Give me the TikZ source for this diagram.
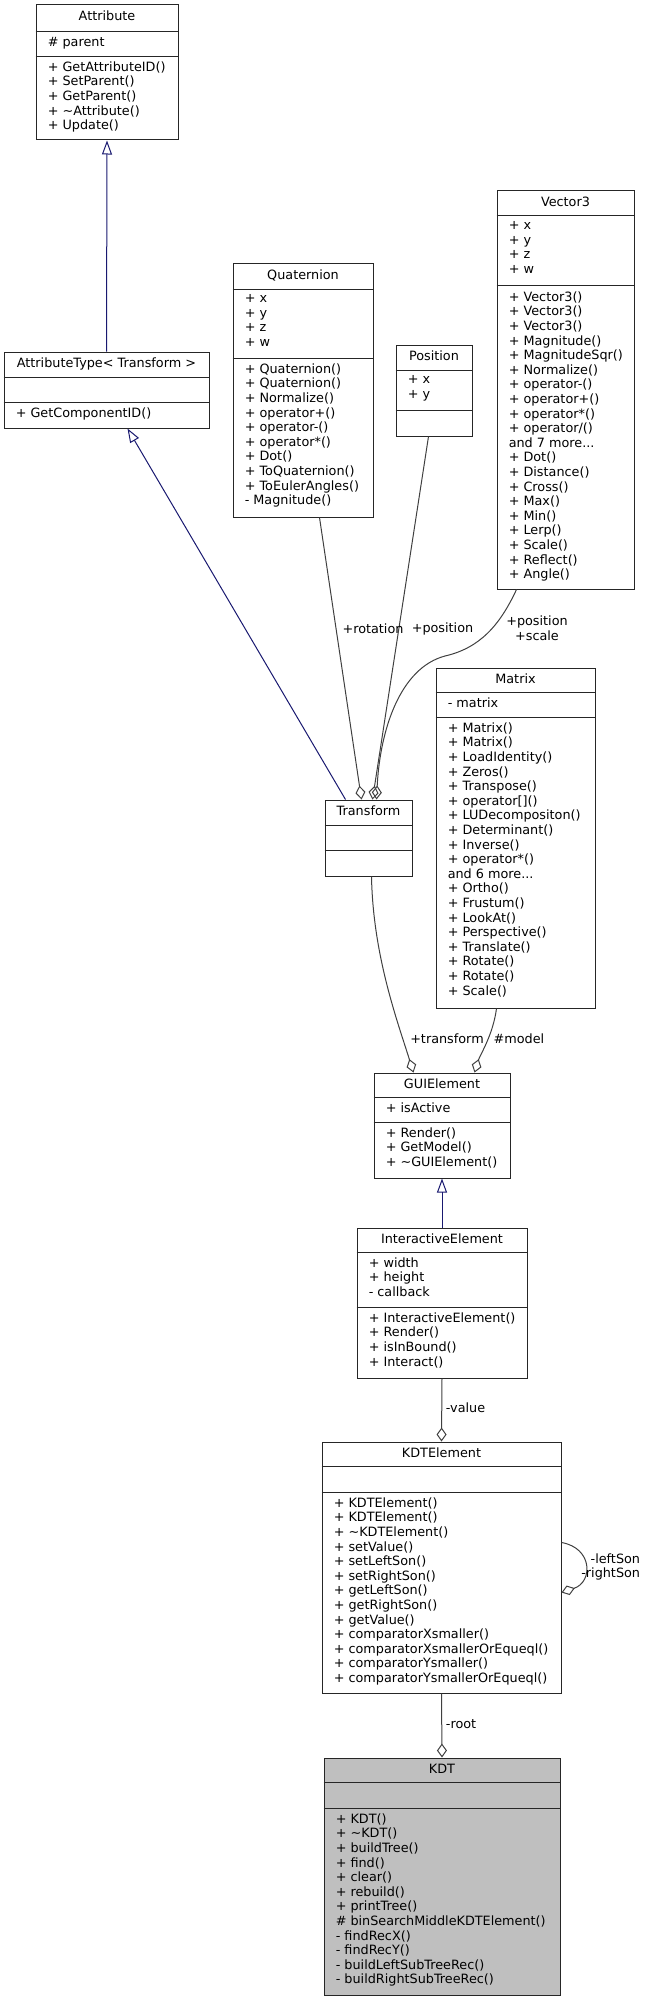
\documentclass[tikz,border=0pt]{standalone}
\usepackage{fontspec}
\setmainfont{DejaVu Sans}
\usetikzlibrary{arrows.meta,calc,fit}
\newcommand{\memfont}{\fontsize{9.6pt}{10.95pt}\selectfont}
\definecolor{edgegray}{HTML}{404040}
\definecolor{genblue}{HTML}{191970}
\definecolor{kdtgray}{HTML}{BFBFBF}

\begin{document}
\begin{tikzpicture}[
  x=0.75pt, y=-0.75pt,
  font=\memfont,
  cls/.style={draw=black!85,line width=0.75pt,fill=white,inner sep=0pt},
  sepline/.style={draw=black!85,line width=0.75pt},
  title/.style={anchor=base,inner sep=0pt},
  members/.style={anchor=north west,align=left,inner sep=0pt,execute at begin node=\strut},
  lbl/.style={inner sep=0.5pt,align=center},
  gen/.style={draw=genblue,line width=0.75pt,-{Triangle[open,length=10.5pt,width=7.5pt]}},
  assoc/.style={draw=edgegray,line width=0.75pt,-{Diamond[open,length=10.5pt,width=7.5pt]}},
]
\useasboundingbox (0,0) rectangle (651,2001);

% ---- class boxes ----
\node[cls,fit={(36,5) (178,140)}] (attr) {};
\node[cls,fit={(4,352) (209,428)}] (attrtype) {};
\node[cls,fit={(233,264) (373,517)}] (quat) {};
\node[cls,fit={(396,345) (472,436)}] (position) {};
\node[cls,fit={(497,191) (634,589)}] (vec3) {};
\node[cls,fit={(436,668) (595,1008)}] (matrix) {};
\node[cls,fit={(325,800) (412,876)}] (transform) {};
\node[cls,fit={(374,1073) (510,1178)}] (guie) {};
\node[cls,fit={(357,1228) (527,1378)}] (inter) {};
\node[cls,fit={(322,1442) (561,1693)}] (kdte) {};
\node[cls,fill=kdtgray,fit={(324,1758) (560,1995)}] (kdt) {};

% ---- compartments ----
\foreach \n/\sa/\sb in {attr/27/52,attrtype/26/51,quat/26/95,position/26/66,vec3/25/95,
                        matrix/25/50,transform/26/51,guie/25/50,inter/25/80,kdte/25/51,kdt/25/51}
  \draw[sepline] ($(\n.north west)+(0,\sa)$) -- ($(\n.north east)+(0,\sa)$)
                 ($(\n.north west)+(0,\sb)$) -- ($(\n.north east)+(0,\sb)$);

% ---- titles ----
\node[title] (attr-t) at ($(attr.north)+(0,16)$) {Attribute};
\node[title] (attrtype-t) at ($(attrtype.north)+(0,16)$) {AttributeType< Transform >};
\node[title] (quat-t) at ($(quat.north)+(0,16)$) {Quaternion};
\node[title] (position-t) at ($(position.north)+(0,16)$) {Position};
\node[title] (vec3-t) at ($(vec3.north)+(0,16)$) {Vector3};
\node[title] (matrix-t) at ($(matrix.north)+(0,16)$) {Matrix};
\node[title] (transform-t) at ($(transform.north)+(0,16)$) {Transform};
\node[title] (guie-t) at ($(guie.north)+(0,16)$) {GUIElement};
\node[title] (inter-t) at ($(inter.north)+(0,16)$) {InteractiveElement};
\node[title] (kdte-t) at ($(kdte.north)+(0,16)$) {KDTElement};
\node[title] (kdt-t) at ($(kdt.north)+(0,16)$) {KDT};

% ---- members ----
\node[members] (attr-a) at ($(attr.north west)+(12,31.8)$) {\# parent};
\node[members] (attr-m) at ($(attr.north west)+(12,56.8)$)
  {+ GetAttributeID()\\+ SetParent()\\+ GetParent()\\+ \textasciitilde Attribute()\\+ Update()};
\node[members] (attrtype-m) at ($(attrtype.north west)+(12,55.8)$) {+ GetComponentID()};
\node[members] (quat-a) at ($(quat.north west)+(12,30.8)$) {+ x\\+ y\\+ z\\+ w};
\node[members] (quat-m) at ($(quat.north west)+(12,99.8)$)
  {+ Quaternion()\\+ Quaternion()\\+ Normalize()\\+ operator+()\\+ operator-()\\+ operator*()\\
   + Dot()\\+ ToQuaternion()\\+ ToEulerAngles()\\- Magnitude()};
\node[members] (position-a) at ($(position.north west)+(12,30.8)$) {+ x\\+ y};
\node[members] (vec3-a) at ($(vec3.north west)+(12,30.8)$) {+ x\\+ y\\+ z\\+ w};
\node[members] (vec3-m) at ($(vec3.north west)+(12,100.8)$)
  {+ Vector3()\\+ Vector3()\\+ Vector3()\\+ Magnitude()\\+ MagnitudeSqr()\\+ Normalize()\\
   + operator-()\\+ operator+()\\+ operator*()\\+ operator/()\\and 7 more...\\+ Dot()\\
   + Distance()\\+ Cross()\\+ Max()\\+ Min()\\+ Lerp()\\+ Scale()\\+ Reflect()\\+ Angle()};
\node[members] (matrix-a) at ($(matrix.north west)+(12,29.8)$) {- matrix};
\node[members] (matrix-m) at ($(matrix.north west)+(12,54.8)$)
  {+ Matrix()\\+ Matrix()\\+ LoadIdentity()\\+ Zeros()\\+ Transpose()\\+ operator[]()\\
   + LUDecompositon()\\+ Determinant()\\+ Inverse()\\+ operator*()\\and 6 more...\\
   + Ortho()\\+ Frustum()\\+ LookAt()\\+ Perspective()\\+ Translate()\\+ Rotate()\\
   + Rotate()\\+ Scale()};
\node[members] (guie-a) at ($(guie.north west)+(12,29.8)$) {+ isActive};
\node[members] (guie-m) at ($(guie.north west)+(12,54.8)$)
  {+ Render()\\+ GetModel()\\+ \textasciitilde GUIElement()};
\node[members] (inter-a) at ($(inter.north west)+(12,29.8)$) {+ width\\+ height\\- callback};
\node[members] (inter-m) at ($(inter.north west)+(12,84.8)$)
  {+ InteractiveElement()\\+ Render()\\+ isInBound()\\+ Interact()};
\node[members] (kdte-m) at ($(kdte.north west)+(12,55.8)$)
  {+ KDTElement()\\+ KDTElement()\\+ \textasciitilde KDTElement()\\+ setValue()\\+ setLeftSon()\\
   + setRightSon()\\+ getLeftSon()\\+ getRightSon()\\+ getValue()\\+ comparatorXsmaller()\\
   + comparatorXsmallerOrEqueql()\\+ comparatorYsmaller()\\+ comparatorYsmallerOrEqueql()};
\node[members] (kdt-m) at ($(kdt.north west)+(12,55.8)$)
  {+ KDT()\\+ \textasciitilde KDT()\\+ buildTree()\\+ find()\\+ clear()\\+ rebuild()\\+ printTree()\\
   \# binSearchMiddleKDTElement()\\- findRecX()\\- findRecY()\\- buildLeftSubTreeRec()\\
   - buildRightSubTreeRec()};

% ---- inheritance ----
\draw[gen] (attrtype.north) -- (attr.south);
\draw[gen] ($(transform.north west)+(21,0)$) -- ($(attrtype.south west)+(124,0)$);
\draw[gen] (inter.north) -- (guie.south);

% ---- usage ----
\draw[assoc] ($(quat.south west)+(87,0)$) -- ($(transform.north west)+(37,0)$);
\draw[assoc] ($(position.south west)+(33,0)$) -- ($(transform.north west)+(48,0)$);
\draw[assoc] ($(vec3.south west)+(20,0)$) .. controls (500,625) and (480,648) .. (445,656)
  .. controls (400,668) and (380,730) .. ($(transform.north west)+(52,0)$);
\node[lbl] (l-rot) at (373,629) {+rotation};
\node[lbl] (l-pos) at (442.5,629) {+position};
\node[lbl] (l-vec) at (537,628) {+position\\+scale};

\draw[assoc] ($(transform.south west)+(47,0)$) .. controls (373,955) and (397,1020) .. ($(guie.north west)+(40,0)$);
\draw[assoc] ($(matrix.south west)+(61,0)$) .. controls (493,1035) and (480,1055) .. ($(guie.north west)+(101,0)$);
\node[lbl] (l-trans) at (447,1039) {+transform};
\node[lbl] (l-model) at (519,1039) {\#model};

\draw[assoc] (inter.south) -- (kdte.north);
\node[lbl,anchor=west] (l-value) at (445,1408) {-value};
\draw[assoc] ($(kdte.north east)+(0,101)$) .. controls (593,1548) and (593,1582) .. ($(kdte.north east)+(0,151)$);
\node[lbl,align=right,anchor=east] (l-sons) at (641,1567) {-leftSon\\-rightSon};
\draw[assoc] (kdte.south) -- (kdt.north);
\node[lbl,anchor=west] (l-root) at (445,1724) {-root};
\end{tikzpicture}
\end{document}
